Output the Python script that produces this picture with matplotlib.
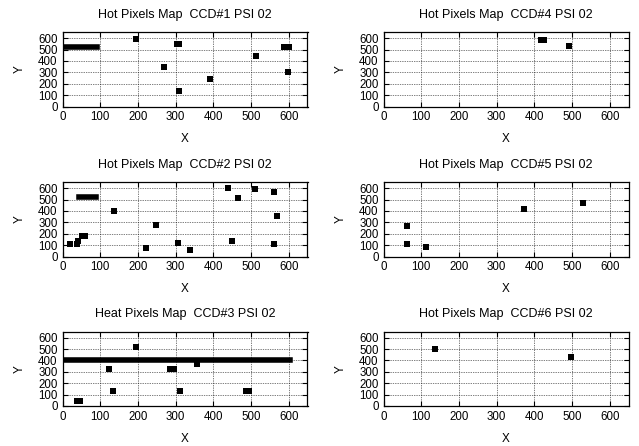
import matplotlib
matplotlib.use("Agg")
import matplotlib.pyplot as plt

plt.rcParams['font.family'] = ['Liberation Sans', 'DejaVu Sans']

titles = ["Hot Pixels Map  CCD#1 PSI 02", "Hot Pixels Map  CCD#4 PSI 02",
          "Hot Pixels Map  CCD#2 PSI 02", "Hot Pixels Map  CCD#5 PSI 02",
          "Heat Pixels Map  CCD#3 PSI 02", "Hot Pixels Map  CCD#6 PSI 02"]

# isolated hot pixels (x, y)
ccd1_x = [194, 304, 309, 268, 310, 391, 513, 587, 594, 601, 597]
ccd1_y = [591, 548, 548, 348, 139, 238, 446, 525, 525, 525, 299]
ccd4_x = [419, 425, 491]
ccd4_y = [583, 583, 530]
ccd2_x = [19, 38, 41, 51, 59, 137, 222, 248, 307, 339, 439, 450, 466, 512, 561, 561, 570]
ccd2_y = [107, 107, 136, 177, 177, 400, 72, 281, 122, 55, 603, 139, 513, 591, 565, 113, 357]
ccd5_x = [63, 63, 113, 373, 528]
ccd5_y = [270, 113, 87, 417, 470]
ccd3_x = [194, 123, 284, 296, 357, 134, 312, 488, 495, 39, 46]
ccd3_y = [516, 328, 328, 328, 365, 130, 130, 130, 130, 43, 43]
ccd6_x = [137, 497]
ccd6_y = [501, 432]

# rows of hot pixels: (x_start, x_end, y)
ccd1_rows = [(4, 92, 522)]
ccd4_rows = []
ccd2_rows = [(45, 89, 525)]
ccd5_rows = []
ccd3_rows = [(4, 603, 406)]
ccd6_rows = []

panels = [(ccd1_x, ccd1_y, ccd1_rows), (ccd4_x, ccd4_y, ccd4_rows),
          (ccd2_x, ccd2_y, ccd2_rows), (ccd5_x, ccd5_y, ccd5_rows),
          (ccd3_x, ccd3_y, ccd3_rows), (ccd6_x, ccd6_y, ccd6_rows)]

ticks = [0, 100, 200, 300, 400, 500, 600]

W, H = 639, 446
fig = plt.figure(figsize=(W / 100, H / 100), dpi=100)

lefts = [62.5, 383.5]
tops = [32.5, 182.5, 332]
aw, ah = 245, 74

for i, (xs, ys, rows) in enumerate(panels):
    r, c = divmod(i, 2)
    l = lefts[c]
    t = tops[r]
    ax = fig.add_axes([l / W, 1 - (t + ah) / H, aw / W, ah / H])
    for (x0, x1, yy) in rows:
        ax.plot([x0, x1], [yy, yy], color='black', lw=4.0,
                solid_capstyle='projecting', zorder=3)
    ax.plot(xs, ys, linestyle='none', marker='s', ms=4.0, color='black',
            mew=0, zorder=3)
    ax.set_xlim(0, 650)
    ax.set_ylim(0, 650)
    ax.set_xticks(ticks)
    ax.set_yticks(ticks)
    ax.grid(True, linestyle=(0, (1, 1.5)), color='black', lw=0.5)
    ax.set_axisbelow(True)
    ax.tick_params(direction='in', length=3.5, width=0.8, top=True, right=True,
                   labelsize=8.3, pad=3.5)
    for s in ax.spines.values():
        s.set_linewidth(0.9)
    ax.set_title(titles[i], fontsize=9, pad=10.5)
    ax.set_xlabel("X", fontsize=8.5, labelpad=7)
    ax.set_ylabel("Y", fontsize=8.5, labelpad=9)

fig.savefig("out.png", dpi=100)
